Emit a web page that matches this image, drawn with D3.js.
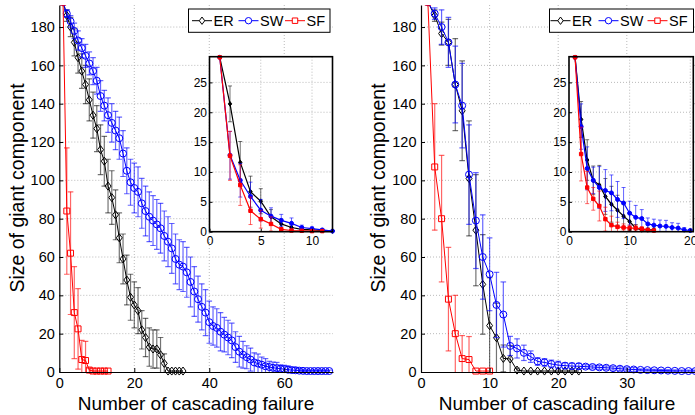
<!DOCTYPE html>
<html>
<head>
<meta charset="utf-8">
<script src="https://cdn.jsdelivr.net/npm/d3@7"></script>
<style>
body { margin: 0; background: #fff; }
text { font-family: "Liberation Sans", Arial, Helvetica, sans-serif; fill: #000; }
</style>
</head>
<body>
<div id="chart"></div>
<script>
// main panels: mean size of giant component per cascade step (x = 1, 2, ...)
const erLeft   = [193,186,180,172,164,157,150,142,134,127,116,110,97,91,82,70,59,48,39,35,32,22,18,13,12,12,9,4.5,0.5,0.5,0.5,0.5,0.5];
const erLeftSd = [0,3,5,7,8,9,10,11,12,12,13,13,14,14,13,13,13,13,12,12,12,10,10,10,10,10,9,5,0,0,0,0,0];
const swLeft   = [193,187,183,178,173,169,165,161,157,152,144,139,134,130,126,122,114,105,99,96,94,88,84,81,79,77,75,71,68,64.5,
                  59,56,55,52,47,42,38,34,31,26,24,23,21,19.5,18,16.5,13,10.6,9,7.7,6.5,5,4.4,3.8,3,2.6,2.2,2,1.7,1.5,
                  1.2,1,0.9,0.7,0.6,0.5,0.5,0.5,0.5,0.5,0.5,0.5];
const swLeftSd = [0,2,3,4,5,5,6,6,7,7,8,8,9,10,10,11,12,12,12,13,13,13,13,13,13,13,13,13,13,13,
                  13,13,13,13,13,13,12,12,12,11,10,10,10,9,9,9,8,8,7,6,6,5,5,4,4,3,3,3,2,2,
                  2,1.5,1.5,1,0.5,0.5,0.5,0.5,0.5,0.5,0.5,0.5];
const sfLeft   = [193,84,62,31,22.5,6.5,6,1,0.5,0.5,0.5,0.5,0.5];
const sfLeftSd = [0,33,32,24,21,10,10,1,0,0,0,0,0];

const erRight   = [193,186,176.6,172,150,136.3,101,74,45.7,24.2,17.9,7.1,6.8,1,0.5,0.5,0.5,0.5,0.5,0.5,0.5,0.5,0.5];
const erRightSd = [0,3,6,12,24,26,30,29,26,25,18,7,7,1,0,0,0,0,0,0,0,0,0];
const swRight   = [193,187,180,172,150,139,103,79,60,51,35,30,13.6,12.3,10,8,5.5,5,4.2,3.6,
                   3.3,3.1,3,2.8,2.6,2.4,2.2,2,1.7,1.5,1.3,1.1,1,0.9,0.8,0.7,0.6,0.5,0.5,0.5];
const swRightSd = [0,3,9,13,20,22,26,25,22,19,17,17,5,5,4,3,2,2,2,2,
                   1.5,1.5,1.5,1,1,1,1,1,1,1,1,0.5,0.5,0.5,0.5,0.5,0.5,0.5,0.5,0.5];
const sfRight   = [193,107,80,38,20,7,6.5,0.5,0.5,0.5];
const sfRightSd = [0,33,33,27,20,12,12,0,0,0];

// insets
const erLeftIn   = [29.2,21.4,11.6,6.7,5.1,2.5,1.3,0.7,0.4,0.3,0.2,0.1];
const erLeftInSd = [0,3,3.5,2.6,2.1,1.2,0.8,0.4,0.3,0.2,0.1,0.1];
const swLeftIn   = [29.2,12.8,8.6,5.9,3.6,2.6,1.9,1.4,0.7,0.5,0.3,0.1];
const swLeftInSd = [0,4,2.8,2.4,1.8,1.4,1,0.9,0.4,0.3,0.2,0.1];
const sfLeftIn   = [29.2,12.7,7.8,3.5,2.1,1.3,0.4,0.2,0.15,0.1,0.1];
const sfLeftInSd = [0,4.1,3.4,2.3,1.5,1.2,0.3,0.1,0.1,0,0];

const erRightIn   = [29.2,18.8,12,8.6,7.8,5.9,4.6,3.6,2.6,1.7,0.6,0.3,0.3,0.3];
const erRightInSd = [0,3,3.4,2.4,3.3,3,3,2.5,2,1.5,0.6,0.3,0.3,0.3];
const swRightIn   = [29.2,17.6,10.6,8.6,7.4,6.9,6.5,5.4,4.8,3.1,2.4,2.2,1.3,1.1,0.95,0.9,0.7,0.6,0.3,0.2];
const swRightInSd = [0,3.8,3.6,2.2,3.5,3.5,3,3,2.6,2,2,1.5,1,1,1,1,0.8,0.8,0.4,0.2];
const sfRightIn   = [29.2,13,7.4,5.5,4.3,2.1,1.1,0.8,0.7,0.6,0.6,0.5,0.3,0.2];
const sfRightInSd = [0,4.5,2.7,1.9,2.5,2,1.5,0.8,0.6,0.5,0.5,0.3,0.2,0.1];

const seriesNames = ['ER','SW','SF'];
const yTicks = [0,20,40,60,80,100,120,140,160,180];
const yTicksIn = [0,5,10,15,20,25];

const width = 695, height = 415;
const color = {ER: '#000000', SW: '#0000ff', SF: '#ff0000'};
const shape = {ER: 'diamond', SW: 'circle', SF: 'square'};

const svg = d3.select('#chart')
    .append('svg')
    .attr('width', width)
    .attr('height', height);

function markerPath(type, r) {
    if (type == 'diamond') return `M0,${-r*1.15}L${r*0.85},0L0,${r*1.15}L${-r*0.85},0Z`;
    if (type == 'square') return `M${-r*0.85},${-r*0.85}h${r*1.7}v${r*1.7}h${-r*1.7}Z`;
    return `M${r},0A${r},${r} 0 1,1 ${-r},0A${r},${r} 0 1,1 ${r},0Z`;
}

function drawSeries(g, x, y, list, small) {
    list.forEach(s => {
        let pts = s.vals.map((v,i) => ({x: i+1, v: v, sd: s.sd[i]}));
        let c = color[s.name];
        let cap = small ? 2 : 2.8;

        let bars = g.append('g')
            .attr('stroke', c)
            .attr('stroke-opacity', s.name == 'ER' ? 0.55 : 0.6)
            .attr('stroke-width', small ? 1 : 1.2);
        pts.filter(d => d.sd > 0).forEach(d => {
            let top = y(d.v + d.sd), bot = y(Math.max(0, d.v - d.sd));
            bars.append('line').attr('x1', x(d.x)).attr('x2', x(d.x)).attr('y1', top).attr('y2', bot);
            bars.append('line').attr('x1', x(d.x)-cap).attr('x2', x(d.x)+cap).attr('y1', top).attr('y2', top);
            if (d.v - d.sd > 0)
                bars.append('line').attr('x1', x(d.x)-cap).attr('x2', x(d.x)+cap).attr('y1', bot).attr('y2', bot);
        });

        g.append('path')
            .datum(pts)
            .attr('fill', 'none')
            .attr('stroke', c)
            .attr('stroke-width', small ? 1.2 : 1)
            .attr('d', d3.line().x(d => x(d.x)).y(d => y(d.v)));

        g.selectAll(null)
            .data(pts)
            .enter()
            .append('path')
            .attr('transform', d => `translate(${x(d.x)},${y(d.v)})`)
            .attr('d', markerPath(shape[s.name], small ? 2 : 3.5))
            .attr('fill', small ? c : 'none')
            .attr('stroke', c)
            .attr('stroke-width', 1);
    });
}

function grid(g, x, y, xt, yt, x0, x1, y0, y1) {
    let gg = g.append('g')
        .attr('stroke', '#a8a8a8')
        .attr('stroke-width', 0.8)
        .attr('stroke-dasharray', '1,2');
    xt.filter(d => d > 0).forEach(t => {
        gg.append('line').attr('x1', x(t)).attr('x2', x(t)).attr('y1', y0).attr('y2', y1);
    });
    yt.filter(d => d > 0).forEach(t => {
        gg.append('line').attr('x1', x0).attr('x2', x1).attr('y1', y(t)).attr('y2', y(t));
    });
}

function drawPanel(p, id) {
    const g = svg.append('g');
    let x = d3.scaleLinear().domain(p.xDomain).range(p.xRange);
    let y = d3.scaleLinear().domain([0, 191.5]).range([372, 5]);

    // top of the axes cuts the first step off, as in the figure
    svg.append('clipPath').attr('id', 'clip' + id)
        .append('rect')
        .attr('x', p.xRange[0] - 10).attr('y', 5)
        .attr('width', p.xRange[1] - p.xRange[0] + 20).attr('height', 380);

    grid(g, x, y, p.xTicks.concat(p.xGrid || []), yTicks, p.xRange[0], p.xRange[1], 5, 372);

    let dg = g.append('g').attr('clip-path', `url(#clip${id})`);
    drawSeries(dg, x, y, p.series, false);

    let yAxis = d3.axisLeft(y).tickValues(yTicks).tickSizeInner(-4).tickSizeOuter(0).tickPadding(4.5);
    let xAxis = d3.axisBottom(x).tickValues(p.xTicks).tickSizeInner(-4).tickSizeOuter(0).tickPadding(6);

    let ya = g.append('g').attr('transform', `translate(${p.xRange[0]},0)`).call(yAxis);
    let xa = g.append('g').attr('transform', 'translate(0,372)').call(xAxis);
    [ya, xa].forEach(a => {
        a.selectAll('text').style('font-size', '14.5px');
        a.select('.domain').attr('stroke', '#000').attr('stroke-width', 1.2);
        a.selectAll('.tick line').attr('stroke', '#000');
    });

    // inset
    let ix = d3.scaleLinear().domain(p.inset.xDomain).range(p.inset.xRange);
    let iy = d3.scaleLinear().domain([0, 29.3]).range([231.7, 56.7]);
    let ig = svg.append('g');
    ig.append('rect')
        .attr('x', p.inset.xRange[0]).attr('y', 56.7)
        .attr('width', p.inset.xRange[1]-p.inset.xRange[0]).attr('height', 175)
        .attr('fill', '#fff');
    grid(ig, ix, iy, p.inset.xTicks, yTicksIn, p.inset.xRange[0], p.inset.xRange[1], 56.7, 231.7);
    drawSeries(ig, ix, iy, p.inset.series, true);
    ig.append('rect')
        .attr('x', p.inset.xRange[0]).attr('y', 56.7)
        .attr('width', p.inset.xRange[1]-p.inset.xRange[0]).attr('height', 175)
        .attr('fill', 'none')
        .attr('stroke', '#000')
        .attr('stroke-width', 1.6);

    let iya = ig.append('g').attr('transform', `translate(${p.inset.xRange[0]},0)`)
        .call(d3.axisLeft(iy).tickValues(yTicksIn).tickSizeInner(-3).tickSizeOuter(0).tickPadding(2.5));
    let ixa = ig.append('g').attr('transform', 'translate(0,231.7)')
        .call(d3.axisBottom(ix).tickValues(p.inset.xTicks).tickSizeInner(-3).tickSizeOuter(0).tickPadding(5));
    [iya, ixa].forEach(a => {
        a.select('.domain').remove();
        a.selectAll('text').style('font-size', '12px');
        a.selectAll('.tick line').attr('stroke', '#000');
    });

    // legend
    let lg = svg.append('g');
    lg.append('rect')
        .attr('x', p.legend.x).attr('y', 9)
        .attr('width', p.legend.w).attr('height', 23.3)
        .attr('fill', '#fff')
        .attr('stroke', '#000')
        .attr('stroke-width', 1);
    seriesNames.forEach((n,i) => {
        let lx = p.legend.items[i];
        lg.append('line')
            .attr('x1', lx).attr('x2', lx+20).attr('y1', 20.7).attr('y2', 20.7)
            .attr('stroke', color[n]).attr('stroke-width', 1);
        lg.append('path')
            .attr('transform', `translate(${lx+10},20.7)`)
            .attr('d', markerPath(shape[n], 3.2))
            .attr('fill', '#fff')
            .attr('stroke', color[n]);
        lg.append('text')
            .attr('x', lx+21.5).attr('y', 26.3)
            .style('font-size', '14.5px')
            .text(n);
    });

    svg.append('text')
        .attr('x', p.labelX).attr('y', 409.5)
        .style('text-anchor', 'middle')
        .style('font-size', '19px')
        .text('Number of cascading failure');

    svg.append('text')
        .attr('transform', `translate(${p.yLabelX},188) rotate(-90)`)
        .style('text-anchor', 'middle')
        .style('font-size', '19.5px')
        .text('Size of giant component');
}

drawPanel({
    xDomain: [0,73], xRange: [59.3,333], xTicks: [0,20,40,60],
    series: [
        {name: 'ER', vals: erLeft, sd: erLeftSd},
        {name: 'SW', vals: swLeft, sd: swLeftSd},
        {name: 'SF', vals: sfLeft, sd: sfLeftSd}
    ],
    inset: {
        xDomain: [0,12], xRange: [209.5,332.5], xTicks: [0,5,10],
        series: [
            {name: 'ER', vals: erLeftIn, sd: erLeftInSd},
            {name: 'SW', vals: swLeftIn, sd: swLeftInSd},
            {name: 'SF', vals: sfLeftIn, sd: sfLeftInSd}
        ]
    },
    legend: {x: 188.5, w: 141.5, items: [192, 238.5, 285]},
    labelX: 196, yLabelX: 24
}, 'L');

drawPanel({
    xDomain: [0,40], xRange: [421,695.4], xTicks: [0,10,20,30], xGrid: [40],
    series: [
        {name: 'ER', vals: erRight, sd: erRightSd},
        {name: 'SW', vals: swRight, sd: swRightSd},
        {name: 'SF', vals: sfRight, sd: sfRightSd}
    ],
    inset: {
        xDomain: [0,20.5], xRange: [569,693.3], xTicks: [0,10,20],
        series: [
            {name: 'ER', vals: erRightIn, sd: erRightInSd},
            {name: 'SW', vals: swRightIn, sd: swRightInSd},
            {name: 'SF', vals: sfRightIn, sd: sfRightInSd}
        ]
    },
    legend: {x: 549.5, w: 144, items: [550.5, 598.5, 647.5]},
    labelX: 557, yLabelX: 385
}, 'R');
</script>
</body>
</html>
